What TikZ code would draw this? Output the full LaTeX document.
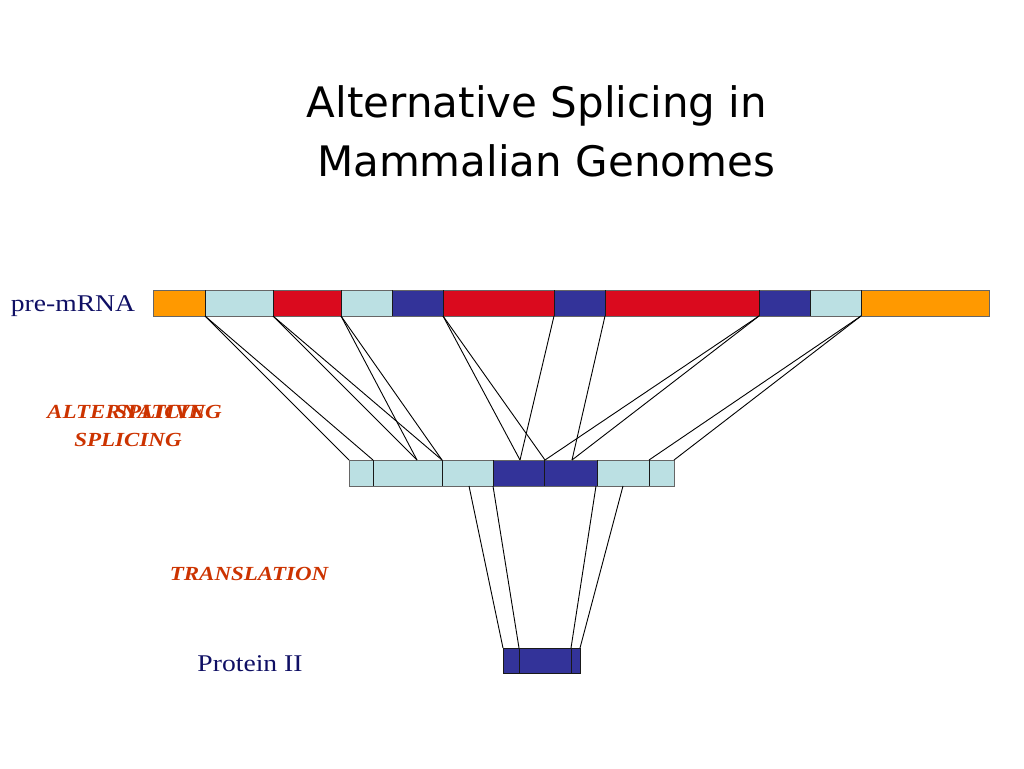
\documentclass[tikz,border=0pt]{standalone}
\usepackage{fontspec}
\setmainfont{Liberation Serif}[FakeStretch=1.15]
\newfontfamily\titlefont{DejaVu Sans}
\usepackage{tikz}
\definecolor{exorange}{RGB}{255,153,0}
\definecolor{exlight}{RGB}{187,224,227}
\definecolor{exred}{RGB}{218,10,30}
\definecolor{exblue}{RGB}{51,51,153}
\definecolor{navy}{RGB}{15,15,100}
\definecolor{stepred}{RGB}{204,51,0}

\begin{document}
\begin{tikzpicture}[x=1pt,y=-1pt,
  seg/.style={draw=black!90,line width=1pt},
  link/.style={line width=0.9pt},
  molname/.style={text=navy,font=\fontsize{24}{28}\selectfont,anchor=base,inner sep=0pt},
  stepname/.style={text=stepred,font=\fontsize{20}{24}\selectfont\bfseries\itshape,anchor=base,inner sep=0pt},
  ttl/.style={font=\titlefont\fontsize{42}{50}\selectfont,anchor=base,inner sep=0pt}]
\useasboundingbox (0,0) rectangle (1024,768);

%title
\node[ttl] (title1) at (537,117) {Alternative Splicing in};
\node[ttl] (title2) at (546,176) {Mammalian Genomes};

%pre-mRNA
\node[molname] (pre) at (73,311) {pre-mRNA};
\fill[exorange] (153,290) rectangle (205,316);
\fill[exlight] (205,290) rectangle (273,316);
\fill[exred] (273,290) rectangle (341,316);
\fill[exlight] (341,290) rectangle (392,316);
\fill[exblue] (392,290) rectangle (443,316);
\fill[exred] (443,290) rectangle (554,316);
\fill[exblue] (554,290) rectangle (605,316);
\fill[exred] (605,290) rectangle (759,316);
\fill[exblue] (759,290) rectangle (810,316);
\fill[exlight] (810,290) rectangle (861,316);
\fill[exorange] (861,290) rectangle (989,316);
\draw[seg,draw=black!60] (153,290) rectangle (989,316);
\foreach \x in {205,273,341,392,443,554,605,759,810,861}
  \draw[seg] (\x,290) -- (\x,316);

\coordinate (pa) at (205,316);
\coordinate (pb) at (273,316);
\coordinate (pc) at (341,316);
\coordinate (pd) at (443,316);
\coordinate (pe) at (554,316);
\coordinate (pf) at (605,316);
\coordinate (pg) at (759,316);
\coordinate (ph) at (861,316);

%mRNA
\fill[exlight] (349,460) rectangle (493,486);
\fill[exblue] (493,460) rectangle (597,486);
\fill[exlight] (597,460) rectangle (674,486);
\draw[seg,draw=black!60] (349,460) rectangle (674,486);
\foreach \x in {373,442,493,544,597,649}
  \draw[seg] (\x,460) -- (\x,486);

\coordinate (ma) at (349,460);
\coordinate (mb) at (373,460);
\coordinate (mc) at (417,460);
\coordinate (md) at (442,460);
\coordinate (me) at (520,460);
\coordinate (mf) at (545,460);
\coordinate (mg) at (572,460);
\coordinate (mh) at (649,460);
\coordinate (mi) at (674,460);

\coordinate (na) at (469,486);
\coordinate (nb) at (493,486);
\coordinate (nc) at (596,486);
\coordinate (nd) at (623,486);

%splicing
\node[stepname,anchor=base west] (alt) at (47,418) {ALTERNATIVE};
\node[stepname,anchor=base east] (altsp) at (222,418) {SPLICING};
\node[stepname] (sp) at (128,446) {SPLICING};

\draw[link] (pa) -- (ma);
\draw[link] (pa) -- (mb);
\draw[link] (pb) -- (mc);
\draw[link] (pb) -- (md);
\draw[link] (pc) -- (mc);
\draw[link] (pc) -- (md);
\draw[link] (pd) -- (me);
\draw[link] (pd) -- (mf);
\draw[link] (pe) -- (me);
\draw[link] (pf) -- (mg);
\draw[link] (pg) -- (mf);
\draw[link] (pg) -- (mg);
\draw[link] (ph) -- (mh);
\draw[link] (ph) -- (mi);

%protein
\node[stepname] (trans) at (249,580) {TRANSLATION};
\node[molname] (prot) at (250,671) {Protein II};
\fill[exblue] (503,648) rectangle (580,673);
\draw[seg] (503,648) rectangle (580,673);
\draw[seg] (519,648) -- (519,673);
\draw[seg] (571,648) -- (571,673);

\coordinate (ra) at (503,648);
\coordinate (rb) at (519,648);
\coordinate (rc) at (571,648);
\coordinate (rd) at (580,648);

\draw[link] (na) -- (ra);
\draw[link] (nb) -- (rb);
\draw[link] (nc) -- (rc);
\draw[link] (nd) -- (rd);

\end{tikzpicture}
\end{document}
